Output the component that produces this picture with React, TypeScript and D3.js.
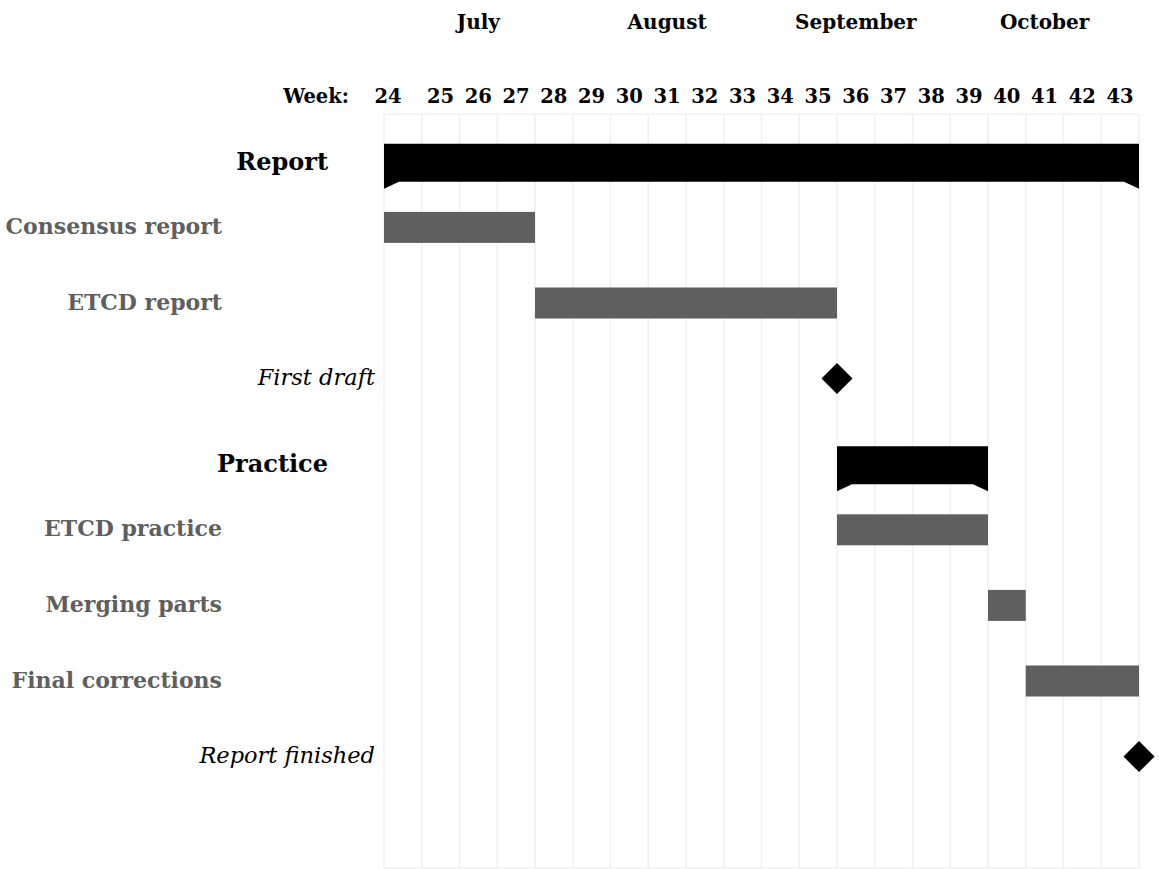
import React from "react";
import * as d3 from "d3";

const weeks = [24, 25, 26, 27, 28, 29, 30, 31, 32, 33, 34, 35, 36, 37, 38, 39, 40, 41, 42, 43];
const months = ["July", "August", "September", "October"];
const monthCenterWeeks = [26, 31, 36, 41];

const taskNames = [
  "Report",
  "Consensus report",
  "ETCD report",
  "First draft",
  "Practice",
  "ETCD practice",
  "Merging parts",
  "Final corrections",
  "Report finished",
];
const taskTypes = ["group", "bar", "bar", "milestone", "group", "bar", "bar", "bar", "milestone"];
const taskStart = [24, 24, 28, 35, 36, 36, 40, 41, 43];
const taskEnd = [43, 27, 35, 35, 39, 39, 40, 43, 43];

const W = 1159;
const H = 869;
const SERIF = "'DejaVu Serif', serif";

export default function App() {
  const x = d3.scaleLinear().domain([24, 44]).range([384, 1139]);
  const rowH = 75.6;
  const gridTop = 114;
  const gridBottom = 868;
  const y = d3.scaleLinear().domain([0, 1]).range([gridTop, gridTop + rowH]);
  const gridWeeks = d3.range(24, 45);

  return (
    <svg width={W} height={H} style={{ position: "absolute", left: 0, top: 0, background: "#fff" }}>
      <rect x={0} y={0} width={W} height={H} fill="#fff" />
      {/* grid */}
      {gridWeeks.map((w) => (
        <line key={w} x1={x(w)} x2={x(w)} y1={gridTop} y2={gridBottom} stroke="#f0f0f0" strokeWidth={1.6} />
      ))}
      <line x1={x(24)} x2={x(44)} y1={gridTop} y2={gridTop} stroke="#f0f0f0" strokeWidth={1.6} />
      <line x1={x(24)} x2={x(44)} y1={gridBottom} y2={gridBottom} stroke="#f0f0f0" strokeWidth={1.6} />

      {/* months */}
      {months.map((m, i) => (
        <text key={m} x={x(monthCenterWeeks[i] + 0.5)} y={29} textAnchor="middle" fontFamily={SERIF} fontWeight="bold" fontSize={20} fill="#000">
          {m}
        </text>
      ))}

      {/* weeks */}
      <text x={349} y={103} textAnchor="end" fontFamily={SERIF} fontWeight="bold" fontSize={19.5} fill="#000">
        Week:
      </text>
      {weeks.map((w, i) => (
        <text
          key={w}
          x={i === 0 ? x(w) + 4 : x(w + 0.5)}
          y={103}
          textAnchor="middle"
          fontFamily={SERIF}
          fontWeight="bold"
          fontSize={19.5}
          fill="#000"
        >
          {w}
        </text>
      ))}

      {/* tasks */}
      {taskNames.map((name, i) => {
        const type = taskTypes[i];
        const cy = y(i + 0.5);
        if (type === "group") {
          const x0 = x(taskStart[i]);
          const x1 = x(taskEnd[i] + 1);
          const top = cy - 8;
          const bot = cy + 30;
          const tip = 7;
          const tw = 15;
          const pts: [number, number][] = [
            [x0, top],
            [x1, top],
            [x1, bot + tip],
            [x1 - tw, bot],
            [x0 + tw, bot],
            [x0, bot + tip],
          ];
          const mid = (top + bot) / 2;
          return (
            <g key={name}>
              <polygon points={pts.map((p) => p.join(",")).join(" ")} fill="#000" />
              <text x={328} y={mid + 7} textAnchor="end" fontFamily={SERIF} fontWeight="bold" fontSize={24} fill="#000">
                {name}
              </text>
            </g>
          );
        }
        if (type === "bar") {
          const x0 = x(taskStart[i]);
          const x1 = x(taskEnd[i] + 1);
          return (
            <g key={name}>
              <rect x={x0} y={cy - 15.5} width={x1 - x0} height={31} fill="#5f5f5f" />
              <text x={222} y={cy + 6.5} textAnchor="end" fontFamily={SERIF} fontWeight="bold" fontSize={22} fill="#5f5f5f">
                {name}
              </text>
            </g>
          );
        }
        const mx = x(taskEnd[i] + 1);
        const s = 15.5;
        return (
          <g key={name}>
            <polygon
              points={`${mx},${cy - s} ${mx + s},${cy} ${mx},${cy + s} ${mx - s},${cy}`}
              fill="#000"
            />
            <text x={375} y={cy + 6.5} textAnchor="end" fontFamily={SERIF} fontStyle="italic" fontSize={22.5} fill="#000">
              {name}
            </text>
          </g>
        );
      })}
    </svg>
  );
}
